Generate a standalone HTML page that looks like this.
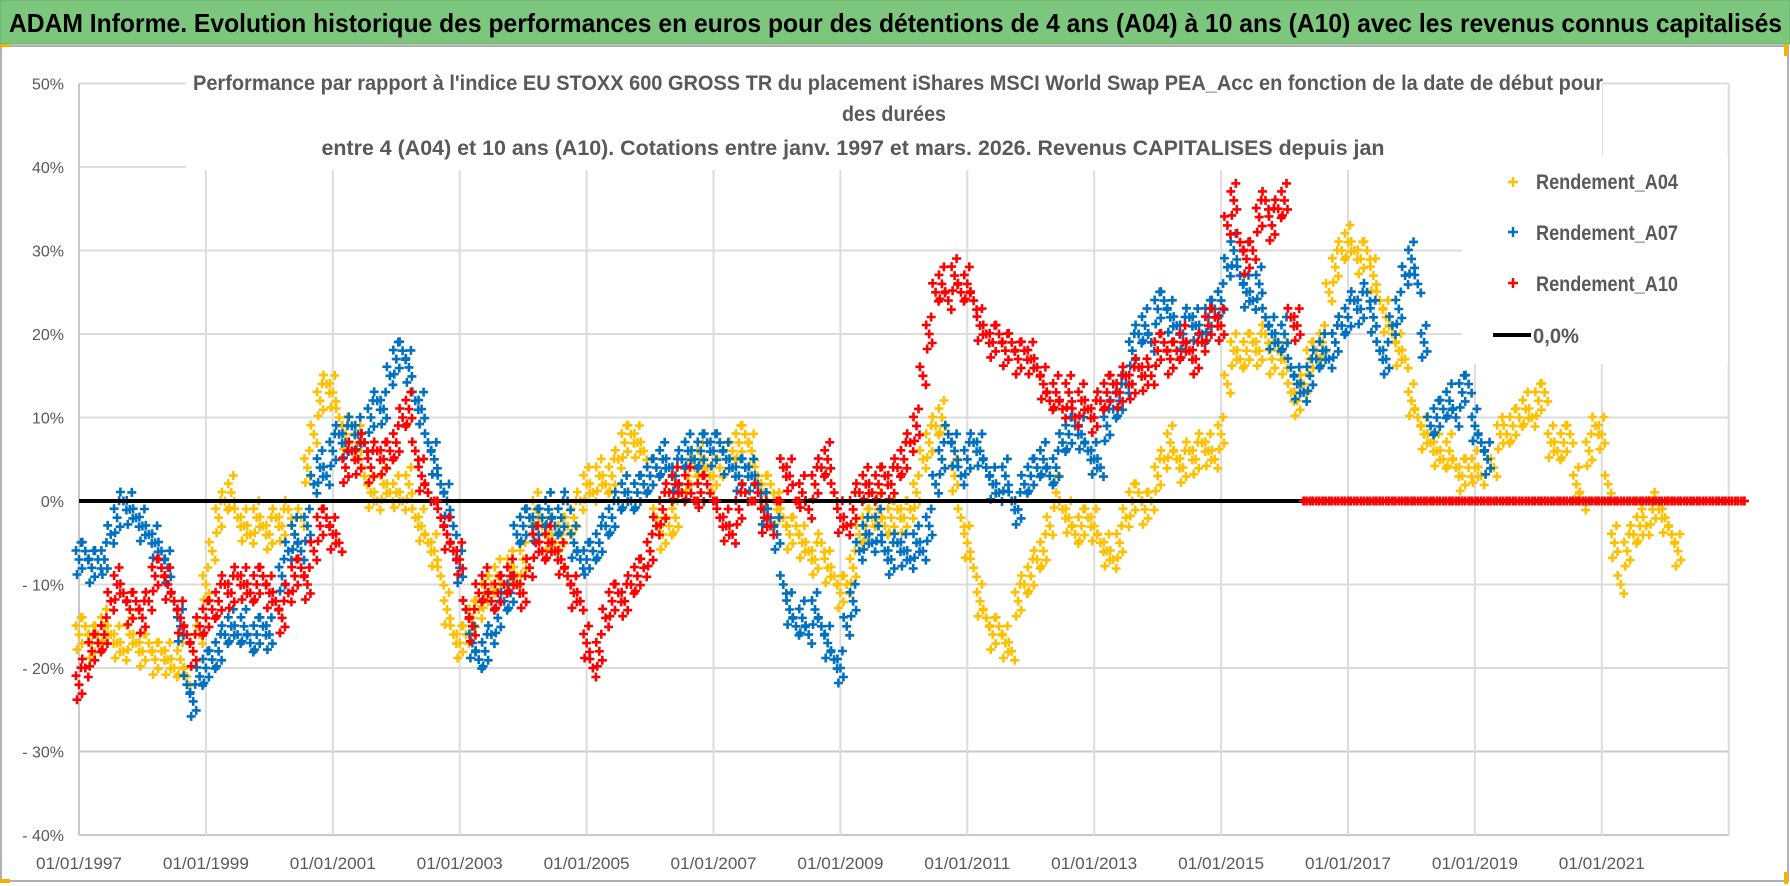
<!DOCTYPE html>
<html><head><meta charset="utf-8">
<style>
html,body{margin:0;padding:0;background:#fff;}
svg{display:block;font-family:"Liberation Sans Narrow","Liberation Sans",sans-serif;}
</style></head>
<body>
<svg id="chart" width="1790" height="886" viewBox="0 0 1790 886" xmlns="http://www.w3.org/2000/svg">
  <rect x="0" y="0" width="1790" height="886" fill="#fff"/>
  <g>
    <rect x="0" y="0" width="1790" height="44" fill="#7dc67e" stroke="#6aa86b" stroke-width="1"/>
    <text x="9" y="32" font-size="26" font-weight="bold" fill="#000" textLength="1773" lengthAdjust="spacingAndGlyphs">ADAM Informe. Evolution historique des performances en euros pour des détentions de 4 ans (A04) à 10 ans (A10) avec les revenus connus capitalisés</text>
  </g>
  <rect x="1" y="46" width="1787" height="835" fill="none" stroke="#b0b0b0" stroke-width="2"/>
  <rect x="0" y="44" width="10" height="3" fill="#f0b400"/>
  <rect x="0" y="879" width="10" height="4" fill="#f0b400"/>
  <rect x="1784" y="44" width="4" height="12" fill="#f0b400"/>
  <rect x="1784" y="872" width="4" height="12" fill="#f0b400"/>
  <g id="grid"></g>
  <g id="yaxis"></g>
  <g id="xaxis"></g>
  <g id="plot"></g>
  <g>
    <rect x="186" y="70" width="1416" height="100" fill="#fff"/>
    <text x="898" y="90" text-anchor="middle" font-size="21" font-weight="bold" fill="#595959" textLength="1410" lengthAdjust="spacingAndGlyphs">Performance par rapport à l'indice EU STOXX 600 GROSS TR  du placement iShares MSCI World Swap PEA_Acc en fonction de la date de début pour</text>
    <text x="894" y="121" text-anchor="middle" font-size="21" font-weight="bold" fill="#595959" textLength="104" lengthAdjust="spacingAndGlyphs">des durées</text>
    <text x="853" y="155" text-anchor="middle" font-size="21" font-weight="bold" fill="#595959" textLength="1063" lengthAdjust="spacingAndGlyphs">entre 4 (A04) et 10 ans (A10). Cotations entre janv. 1997 et mars. 2026. Revenus CAPITALISES depuis jan</text>
  </g>
  <g>
    <rect x="1462" y="156" width="266" height="208" fill="#fff"/>
    <g>
      <path d="M1508 182h10M1513 177v10" stroke="#ffc000" stroke-width="2.5"/>
      <text x="1536" y="189" font-size="21" font-weight="bold" fill="#595959" textLength="142" lengthAdjust="spacingAndGlyphs">Rendement_A04</text>
    </g>
    <g>
      <path d="M1508 232h10M1513 227v10" stroke="#0070c0" stroke-width="2.5"/>
      <text x="1536" y="240" font-size="21" font-weight="bold" fill="#595959" textLength="142" lengthAdjust="spacingAndGlyphs">Rendement_A07</text>
    </g>
    <g>
      <path d="M1508 283h10M1513 278v10" stroke="#ff0000" stroke-width="2.5"/>
      <text x="1536" y="291" font-size="21" font-weight="bold" fill="#595959" textLength="142" lengthAdjust="spacingAndGlyphs">Rendement_A10</text>
    </g>
    <g>
      <line x1="1493" y1="335" x2="1531" y2="335" stroke="#000" stroke-width="4"/>
      <text x="1533" y="343" font-size="21" font-weight="bold" fill="#595959" textLength="46" lengthAdjust="spacingAndGlyphs">0,0%</text>
    </g>
  </g>
</svg>
<script>
const startYear = 1997;
const stepYear = 0.1;
const yTicks = [50,40,30,20,10,0,-10,-20,-30,-40];
const yTickLabels = ["50%","40%","30%","20%","10%","0%","- 10%","- 20%","- 30%","- 40%"];
const xTickYears = [1997,1999,2001,2003,2005,2007,2009,2011,2013,2015,2017,2019,2021];
const xTickLabels = ["01/01/1997","01/01/1999","01/01/2001","01/01/2003","01/01/2005","01/01/2007","01/01/2009","01/01/2011","01/01/2013","01/01/2015","01/01/2017","01/01/2019","01/01/2021"];
const rendementA04 = [
-16,-15,-17,-16,-15,-16,-17,-18,-16,-17,
-18,-17,-19,-18,-19,-20,-19,-21,-18,-16,
-10,-6,-2,0,1,-2,-3,-4,-2,-3,
-4,-2,-3,-1,-4,-2,4,8,12,14,
13,10,8,9,7,3,1,0,2,1,
1,0,2,-2,-3,-5,-6,-9,-13,-16,
-17,-16,-14,-13,-11,-10,-9,-10,-8,-9,
-7,-2,-1,-3,-4,-5,-4,-3,-2,0,
2,1,3,2,3,5,7,8,7,6,
3,-2,-4,-3,-2,1,3,4,5,4,
3,4,5,6,7,8,6,3,1,2,
-1,-2,-4,-3,-5,-6,-7,-5,-8,-9,
-11,-10,-8,-4,-3,-2,-1,-3,-2,-1,
-2,-1,1,5,7,9,10,8,3,-2,
-5,-8,-12,-14,-16,-15,-17,-18,-12,-10,
-9,-7,-6,-3,1,-1,-2,-4,-3,-2,
-3,-5,-6,-7,-5,-2,0,1,-1,0,
3,5,7,5,4,6,5,7,6,5,
8,14,18,17,18,19,18,20,17,18,
17,13,12,14,17,18,19,25,28,30,
31,30,29,30,27,24,22,20,18,17,
12,10,8,7,6,5,6,4,3,4,
4,3,5,4,8,8,9,10,11,10,
12,13,7,6,7,8,2,0,6,9,
8,2,-5,-10,-6,-4,-3,-3,-1,-1,
-2,-4,-6];
const rendementA07 = [
-7,-6,-8,-7,-7,-4,-2,0,-1,-2,
-3,-4,-5,-6,-8,-12,-15,-22,-24,-21,
-20,-19,-18,-16,-15,-16,-15,-17,-16,-15,
-16,-12,-9,-6,-4,-6,-3,2,4,3,
6,8,7,9,8,7,10,12,11,15,
17,18,16,12,11,7,5,2,0,-3,
-8,-13,-17,-19,-18,-16,-14,-12,-11,-4,
-3,-2,-3,-2,-1,-3,-2,0,-5,-7,
-7,-6,-5,-3,-2,0,1,0,1,2,
3,4,5,4,3,5,6,5,6,7,
6,7,5,4,3,4,3,2,-1,-2,
-4,-10,-13,-15,-14,-16,-13,-15,-17,-19,
-20,-15,-12,-6,-4,-5,-3,-6,-7,-5,
-6,-7,-5,-6,-3,2,5,8,6,3,
5,7,6,4,2,1,3,0,-1,2,
3,4,5,3,4,7,8,9,8,6,
5,4,9,11,12,14,18,20,21,19,
23,24,22,21,20,22,21,20,22,23,
24,28,30,27,25,24,26,22,20,19,
20,16,14,13,15,17,18,17,19,21,
22,24,23,25,22,18,17,21,23,27,
29,26,19,9,10,11,12,10,13,14,
9,7,5];
const rendementA10 = [
-22,-20,-18,-17,-16,-12,-10,-11,-13,-12,
-14,-12,-9,-8,-10,-12,-14,-16,-18,-15,
-14,-13,-12,-10,-11,-9,-10,-11,-10,-9,
-11,-12,-14,-11,-9,-8,-10,-6,-3,-2,
-4,-5,4,6,5,7,4,6,5,6,
7,10,11,6,3,1,0,-2,-4,-6,
-7,-13,-15,-11,-10,-12,-11,-10,-9,-10,
-11,-8,-5,-6,-5,-6,-7,-9,-11,-12,
-17,-20,-18,-14,-12,-11,-12,-10,-9,-8,
-6,-3,-1,1,2,1,2,0,1,2,
0,-2,-3,-4,-1,1,0,1,-2,-3,
0,4,3,0,1,-1,2,4,5,1,
-2,-3,-1,1,2,1,2,3,2,4,
5,7,9,15,20,25,26,24,27,25,
26,24,21,20,19,20,18,19,17,18,
17,16,14,12,13,11,13,10,12,11,
10,12,13,14,13,15,14,16,15,15,
18,19,17,18,19,18,17,19,21,22,
21,33,36,31,29,30,34,36,33,35,
36,22,21,0,0,0,0,0,0,0,
0,0,0,0,0,0,0,0,0,0,
0,0,0,0,0,0,0,0,0,0,
0,0,0,0,0,0,0,0,0,0,
0,0,0,0,0,0,0,0,0,0,
0,0,0,0,0,0,0,0,0,0,
0,0,0,0,0,0,0,0,0,0,
0,0,0];

const NS = "http://www.w3.org/2000/svg";
const plotLeft = 79, plotRight = 1729, yearPx = 63.45;
const zeroY = 501, pctPx = 8.35;
function xScale(year){ return plotLeft + (year - startYear) * yearPx; }
function yScale(v){ return zeroY - v * pctPx; }
function mk(tag, attrs, parent){
  const el = document.createElementNS(NS, tag);
  for (const k in attrs) el.setAttribute(k, attrs[k]);
  parent.appendChild(el);
  return el;
}
const grid = document.getElementById('grid');
const yaxis = document.getElementById('yaxis');
const xaxis = document.getElementById('xaxis');
const plot = document.getElementById('plot');

yTicks.forEach((t, i) => {
  const y = yScale(t);
  const ln = mk('line', {x1: plotLeft, x2: plotRight, y1: y, y2: y, stroke: (t === -40 || t === -30) ? '#c8c8c8' : '#dcdcdc', 'stroke-width': 2}, grid);
  
  
  const tx = mk('text', {x: 64, y: y + 6, 'text-anchor': 'end', 'font-size': 16, fill: '#595959'}, yaxis);
  tx.textContent = yTickLabels[i];
  
  
});
xTickYears.forEach((yr, i) => {
  const x = xScale(yr);
  const ln = mk('line', {x1: x, x2: x, y1: yScale(50), y2: yScale(-40), stroke: i === 0 ? '#c8c8c8' : '#dcdcdc', 'stroke-width': 2}, grid);
  
  
  const tx = mk('text', {x: x, y: 869, 'text-anchor': 'middle', 'font-size': 17, fill: '#595959', textLength: 86, lengthAdjust: 'spacingAndGlyphs'}, xaxis);
  tx.textContent = xTickLabels[i];
  
  
});
const endLine = mk('line', {x1: xScale(2023), x2: xScale(2023), y1: yScale(50), y2: yScale(-40), stroke: '#dcdcdc', 'stroke-width': 2}, grid);



// marker glyph: a small cluster of "+" signs around each value (scatter density look)
const glyphOffsets = [[0,0],[-3,-9],[3,9],[2,-17],[-2,15]];
function plusAt(x, y){
  return 'M' + (x - 4.5).toFixed(1) + ' ' + y.toFixed(1) + 'h9M' + x.toFixed(1) + ' ' + (y - 4.5).toFixed(1) + 'v9';
}
function drawSeries(values, color, name, onlyZero){
  const g = mk('g', {stroke: color, 'stroke-width': 2.6, fill: 'none'}, plot);
  
  
  let d = '';
  values.forEach((v, i) => {
    if (onlyZero && v !== 0) return;
    const x = xScale(startYear + i * stepYear), y = yScale(v);
    if (v === 0 && name.indexOf('a10') >= 0) { d += plusAt(x, y) + plusAt(x + 3, y); return; }
    glyphOffsets.forEach((o, k) => {
      if (k >= 3 && i % 2 === 1) return;
      d += plusAt(x + o[0], y + o[1]);
    });
  });
  const p = mk('path', {d: d}, g);
  
  
}
drawSeries(rendementA04, '#ffc000', 'series-rendement-a04', false);
drawSeries(rendementA07, '#0070c0', 'series-rendement-a07', false);
drawSeries(rendementA10, '#ff0000', 'series-rendement-a10', false);
const zl = mk('line', {x1: plotLeft, x2: plotRight, y1: yScale(0), y2: yScale(0), stroke: '#000', 'stroke-width': 4}, plot);


drawSeries(rendementA10, '#ff0000', 'series-rendement-a10-zero', true);
</script>
</body></html>
